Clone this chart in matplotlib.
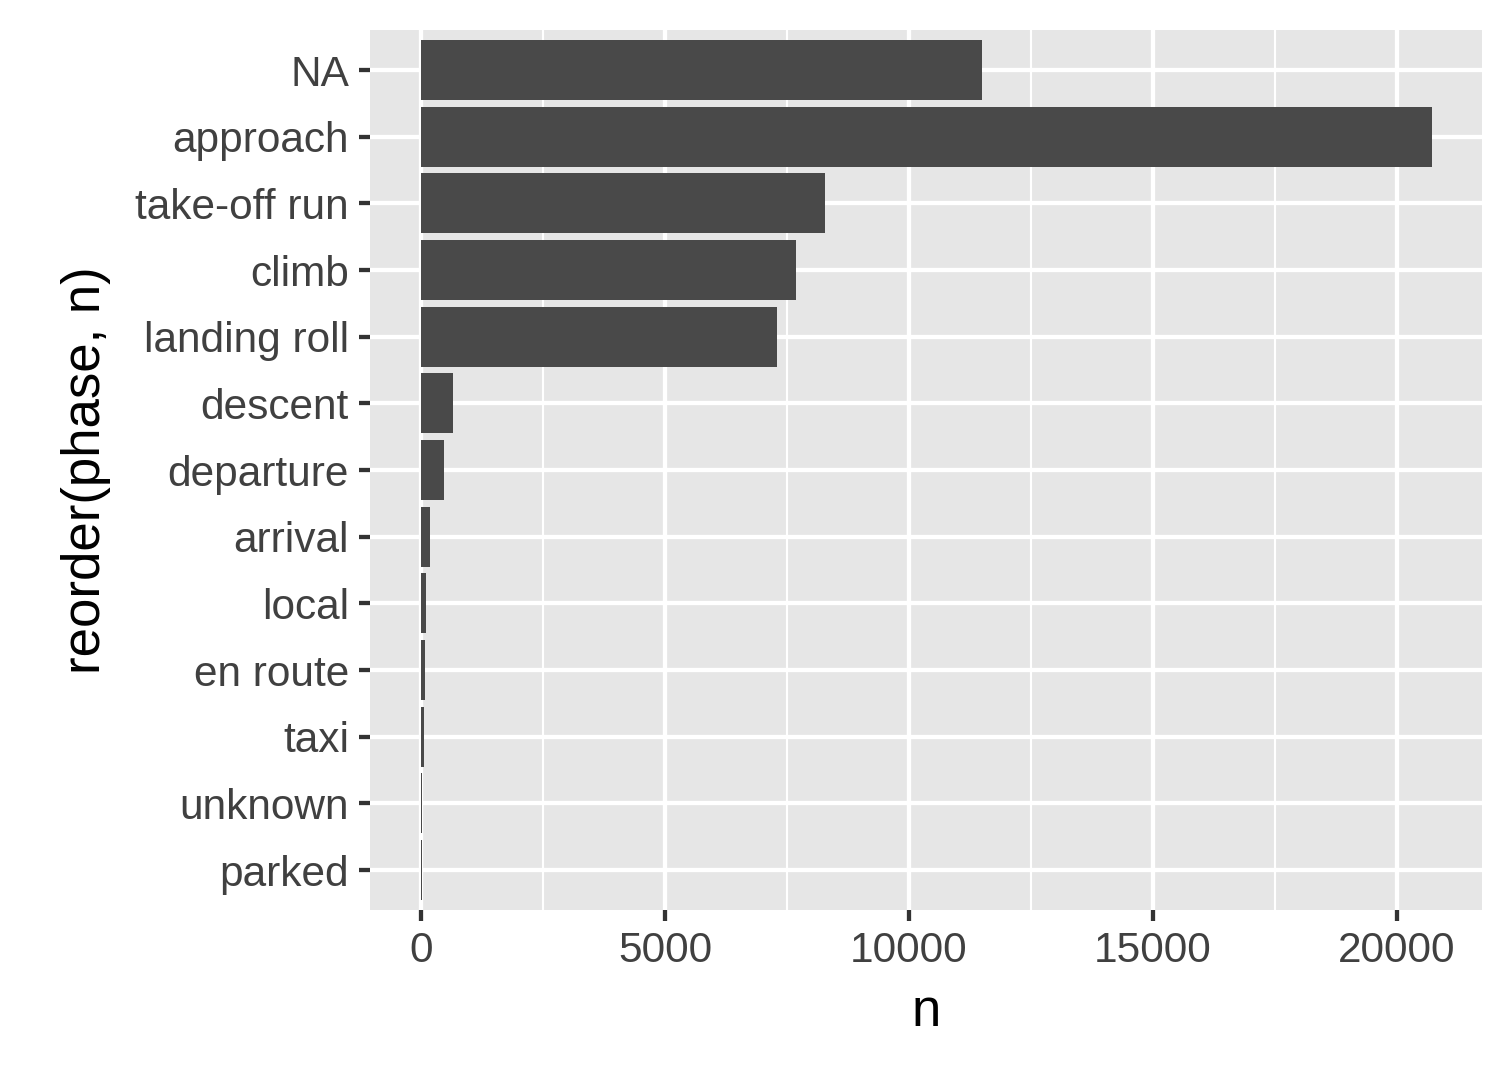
import numpy as np
import matplotlib
matplotlib.use("Agg")
import matplotlib.pyplot as plt
from matplotlib.ticker import MultipleLocator

plt.rcParams['font.family'] = ['Liberation Sans', 'DejaVu Sans']

# phases, bottom to top
phases = ["parked", "unknown", "taxi", "en route", "local", "arrival", "departure",
          "descent", "landing roll", "climb", "take-off run", "approach", "NA"]
counts = [15, 20, 61, 82, 102, 184, 471, 656, 7295, 7684, 8279, 20717, 11496]

fig = plt.figure(figsize=(5.25, 3.75), dpi=288)
ax = fig.add_axes([0.2447, 0.1574, 0.7353, 0.8148])
ax.set_facecolor('#E6E6E6')

y = np.arange(len(phases))
ax.barh(y, counts, height=0.9, color='#494949', zorder=3)

ax.set_xlim(-1045, 21742)
ax.set_ylim(-0.6, len(phases) - 0.4)
ax.xaxis.set_major_locator(MultipleLocator(5000))
ax.xaxis.set_minor_locator(MultipleLocator(2500))
ax.grid(which='major', color='white', linewidth=1.07, zorder=0)
ax.grid(which='minor', axis='x', color='white', linewidth=0.53, zorder=0)
ax.set_axisbelow(True)
for s in ax.spines.values():
    s.set_visible(False)

ax.set_yticks(y)
ax.set_yticklabels(phases)
ax.tick_params(which='major', length=2.75, width=1.07, color='#333333',
               labelsize=10.6, labelcolor='#404040', pad=2.5)
ax.tick_params(which='minor', length=0)
ax.set_xlabel('n', fontsize=13.2, labelpad=4)
ax.set_ylabel('reorder(phase, n)', fontsize=13.2, labelpad=6)

fig.savefig('out.png', dpi=288)
